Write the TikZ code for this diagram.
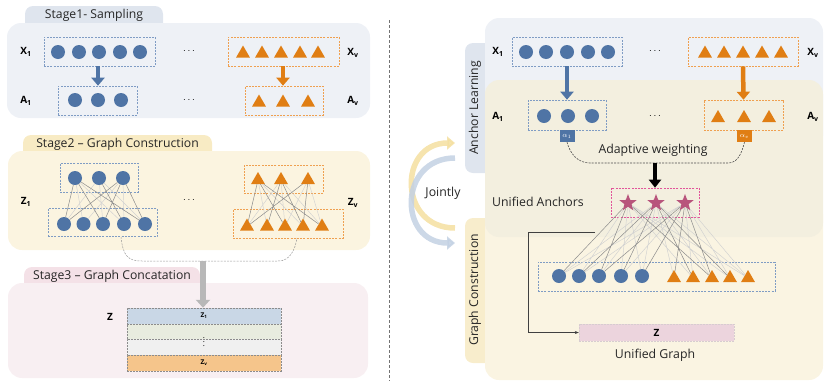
\documentclass[tikz,border=0pt]{standalone}
\usepackage{fontspec}
\setmainfont{Open Sans}
\usepackage{tikz}
\usetikzlibrary{shapes.geometric}
\usetikzlibrary{arrows.meta}

\definecolor{ptblue}{HTML}{4F74A5}
\definecolor{ptorange}{HTML}{E07E14}
\definecolor{ptstar}{HTML}{B8557C}
\definecolor{boxblue}{HTML}{7F9CC4}
\definecolor{boxorange}{HTML}{EFA050}
\definecolor{boxpink}{HTML}{E2549A}
\definecolor{panone}{HTML}{EEF1F6}
\definecolor{tabone}{HTML}{DFE5EE}
\definecolor{pantwo}{HTML}{FBF4E0}
\definecolor{tabtwo}{HTML}{F8EBC4}
\definecolor{panthree}{HTML}{F8EFF2}
\definecolor{tabthree}{HTML}{F4E1E7}
\definecolor{panmid}{HTML}{F3EFDF}
\definecolor{pangraph}{HTML}{FAF4E2}
\definecolor{tabgraph}{HTML}{F8EDCC}
\definecolor{rowone}{HTML}{C9D7E6}
\definecolor{rowtwo}{HTML}{E8ECDF}
\definecolor{rowthree}{HTML}{F0F0F0}
\definecolor{rowfour}{HTML}{F5C58B}
\definecolor{zpink}{HTML}{ECD4DD}
\definecolor{jointy}{HTML}{F4DFA0}
\definecolor{jointb}{HTML}{C3D1E3}

\tikzset{
  dot/.style={circle, fill=ptblue, inner sep=0pt, minimum size=14pt},
  tri/.style={regular polygon, regular polygon sides=3, fill=ptorange, inner sep=0pt, minimum size=16pt},
  star5/.style={star, star points=5, star point ratio=2.4, fill=ptstar, inner sep=0pt, minimum size=18pt},
  bbox/.style={draw=boxblue, dash pattern=on 2pt off 1.2pt, line width=0.6pt, inner sep=0pt},
  obox/.style={draw=boxorange, dash pattern=on 2pt off 1.2pt, line width=0.6pt, inner sep=0pt},
  lab/.style={font=\fontsize{10}{10}\selectfont},
  txt/.style={font=\fontsize{12.3}{13}\selectfont, text=black!85},
  tabtxt/.style={font=\fontsize{12.2}{13}\selectfont, text=black!85},
  dots/.style={font=\fontsize{10}{10}\selectfont},
  edgeD/.style={draw=black!45, line width=0.5pt},
  edgeL/.style={draw=black!18, line width=0.45pt},
  barrow/.style={draw=ptblue, line width=4.5pt, -{Triangle[width=13pt,length=8pt]}},
  oarrow/.style={draw=ptorange, line width=4.5pt, -{Triangle[width=13pt,length=8pt]}},
  row/.style={draw=black!45, dash pattern=on 2pt off 1pt, line width=0.5pt, minimum width=154pt, inner sep=0pt, font=\fontsize{6.5}{6.5}\selectfont},
  alb/.style={inner sep=0pt, minimum width=15pt, minimum height=12pt, text=white, font=\fontsize{7}{7}\selectfont}
}

\begin{document}
\begin{tikzpicture}[x=1pt,y=-1pt]
\useasboundingbox (0,0) rectangle (826,381);

% ---------------- stage 1
\fill[tabone, rounded corners=8pt] (25,6) rectangle (163,35);
\fill[panone, rounded corners=14pt] (7,23) rectangle (370,118);
\node[tabtxt] (st1) at (94,15) {Stage1- Sampling};

\node[lab] (lX1) at (26,52) {$\mathbf{X}_{\mathbf{1}}$};
\node[lab] (lA1) at (26,101) {$\mathbf{A}_{\mathbf{1}}$};
\node[lab] (lXv) at (353,53) {$\mathbf{X}_{\mathbf{v}}$};
\node[lab] (lAv) at (353,101) {$\mathbf{A}_{\mathbf{v}}$};

\node[bbox, minimum width=111pt, minimum height=29pt] (lxb) at (99.5,51.5) {};
\node[dot] (lx1) at (58,52) {};
\node[dot] (lx2) at (79,52) {};
\node[dot] (lx3) at (99,52) {};
\node[dot] (lx4) at (120,52) {};
\node[dot] (lx5) at (140,52) {};
\node[dots] (ld1) at (189,51) {$\cdots$};
\node[obox, minimum width=111pt, minimum height=29pt] (lvb) at (283.5,51.5) {};
\node[tri] (lv1) at (243,53.5) {};
\node[tri] (lv2) at (262,53.5) {};
\node[tri] (lv3) at (281,53.5) {};
\node[tri] (lv4) at (300,53.5) {};
\node[tri] (lv5) at (318,53.5) {};

\node[bbox, minimum width=79pt, minimum height=29pt] (lab1) at (97.5,100.5) {};
\node[dot] (la1) at (75,100) {};
\node[dot] (la2) at (98,100) {};
\node[dot] (la3) at (121,100) {};
\node[dots] (ld2) at (189,100) {$\cdots$};
\node[obox, minimum width=78pt, minimum height=29pt] (labv) at (284,100.5) {};
\node[tri] (lb1) at (259,102.5) {};
\node[tri] (lb2) at (283,102.5) {};
\node[tri] (lb3) at (308,102.5) {};

\draw[barrow] (lxb.south -| la2) -- (lab1.north -| la2);
\draw[oarrow] (lvb.south -| lb2) -- (labv.north -| lb2);

% ---------------- stage 2
\fill[tabtwo, rounded corners=8pt] (23,135) rectangle (212,165);
\fill[pantwo, rounded corners=14pt] (8,151) rectangle (370,250);
\node[tabtxt] (st2) at (117.5,144) {Stage2 -- Graph Construction};

\node[lab] (lZ1) at (26,202) {$\mathbf{Z}_{\mathbf{1}}$};
\node[lab] (lZv) at (353,203) {$\mathbf{Z}_{\mathbf{v}}$};

\node[bbox, minimum width=78pt, minimum height=29pt] (gtb) at (99,177.5) {};
\node[dot] (gt1) at (75,178) {};
\node[dot] (gt2) at (99,178) {};
\node[dot] (gt3) at (123,178) {};
\node[bbox, minimum width=109pt, minimum height=28pt] (gbb) at (102.5,222.5) {};
\node[dot] (gb1) at (64,224) {};
\node[dot] (gb2) at (83.5,224) {};
\node[dot] (gb3) at (103,224) {};
\node[dot] (gb4) at (124,224) {};
\node[dot] (gb5) at (145,224) {};
\node[dots] (ld3) at (189,200) {$\cdots$};
\node[obox, minimum width=79pt, minimum height=28pt] (htb) at (283.5,179) {};
\node[tri] (ht1) at (258,180) {};
\node[tri] (ht2) at (281,180) {};
\node[tri] (ht3) at (308,180) {};
\node[obox, minimum width=110pt, minimum height=29pt] (hbb) at (288,223.5) {};
\node[tri] (hb1) at (247,226.5) {};
\node[tri] (hb2) at (267,226.5) {};
\node[tri] (hb3) at (285,226.5) {};
\node[tri] (hb4) at (303,226.5) {};
\node[tri] (hb5) at (322,226.5) {};

\draw[edgeL] (gt1) -- (gb2) (gt1) -- (gb4) (gt2) -- (gb1) (gt2) -- (gb3) (gt2) -- (gb5) (gt3) -- (gb2) (gt3) -- (gb4);
\draw[edgeD] (gt1) -- (gb1) (gt1) -- (gb3) (gt1) -- (gb5) (gt2) -- (gb4) (gt3) -- (gb1) (gt3) -- (gb3) (gt3) -- (gb5);
\draw[edgeL] (ht1) -- (hb2) (ht1) -- (hb4) (ht2) -- (hb1) (ht2) -- (hb3) (ht2) -- (hb5) (ht3) -- (hb3) (ht3) -- (hb5);
\draw[edgeD] (ht1) -- (hb1) (ht1) -- (hb3) (ht1) -- (hb5) (ht2) -- (hb2) (ht2) -- (hb4) (ht3) -- (hb1) (ht3) -- (hb4);

% bracket to stage 3
\coordinate (brl) at (121,237);
\coordinate (brm) at (203,261);
\coordinate (brr) at (297,238);
\draw[black!40, dash pattern=on 2pt off 1.2pt, line width=0.5pt] (brl) .. controls (123,256) and (128,261) .. (142,261) -- (brm) -- (278,261) .. controls (290,261) and (295,250) .. (brr);

% ---------------- stage 3
\fill[tabthree, rounded corners=8pt] (24,267) rectangle (200,297);
\fill[panthree, rounded corners=14pt] (8,283) rectangle (368,378);
\node[tabtxt] (st3) at (112,276) {Stage3 -- Graph Concatation};

\node[lab] (lZ) at (110,317) {$\mathbf{Z}$};
\node[row, fill=rowone, minimum height=16pt] (zr1) at (204,316) {$\mathbf{Z}_{\mathbf{1}}$};
\node[row, fill=rowtwo, minimum height=15pt] (zr2) at (204,331.5) {};
\node[row, fill=rowthree, minimum height=16pt] (zr3) at (204,347) {};
\node[row, fill=rowfour, minimum height=16pt] (zr4) at (204,363) {$\mathbf{Z}_{\mathbf{v}}$};
\node[font=\fontsize{8}{8}\selectfont, inner sep=0pt] (zvd) at (204,339) {$\vdots$};

\draw[draw=black!28, line width=6pt, -{Triangle[width=14pt,length=8pt]}] (brm) -- (zr1.north -| brm);

% divider
\draw[black!55, dash pattern=on 3pt off 2pt, line width=0.6pt] (389,20) -- (389,381);

% ---------------- right side
\fill[tabone, rounded corners=8pt] (465,43) rectangle (500,173);
\fill[tabgraph, rounded corners=8pt] (465,218) rectangle (500,363);
\fill[panone, rounded corners=14pt] (485,18) rectangle (823,150);
\fill[pangraph, rounded corners=14pt] (485,200) rectangle (823,380);
\fill[panmid, rounded corners=14pt] (485,80) rectangle (823,237);
\node[tabtxt, rotate=90] (tal) at (475,108) {Anchor Learning};
\node[tabtxt, rotate=90] (tgc) at (475,290) {Graph Construction};

% jointly
\coordinate (jy1) at (455,228);
\coordinate (jy2) at (455,143);
\coordinate (jb1) at (455,158);
\coordinate (jb2) at (455,243);
\draw[jointy, opacity=0.85, line width=5.5pt, -{Triangle[width=13pt,length=8pt]}] (jy1) .. controls (398,228) and (398,143) .. (jy2);
\draw[jointb, opacity=0.85, line width=5.5pt, -{Triangle[width=13pt,length=8pt]}] (jb1) .. controls (398,158) and (398,243) .. (jb2);
\node[txt] (jt) at (443,193) {Jointly};

\node[lab] (rX1) at (498,52) {$\mathbf{X}_{\mathbf{1}}$};
\node[lab] (rA1) at (498,117) {$\mathbf{A}_{\mathbf{1}}$};
\node[lab] (rXv) at (813,53) {$\mathbf{X}_{\mathbf{v}}$};
\node[lab] (rAv) at (813,117) {$\mathbf{A}_{\mathbf{v}}$};

\node[bbox, minimum width=110pt, minimum height=29pt] (rxb) at (567,51.5) {};
\node[dot] (rx1) at (526,52) {};
\node[dot] (rx2) at (546,52) {};
\node[dot] (rx3) at (567,52) {};
\node[dot] (rx4) at (588,52) {};
\node[dot] (rx5) at (608,52) {};
\node[dots] (rd1) at (655,51) {$\cdots$};
\node[obox, minimum width=110pt, minimum height=29pt] (rvb) at (743,51.5) {};
\node[tri] (rv1) at (705,53.5) {};
\node[tri] (rv2) at (724,53.5) {};
\node[tri] (rv3) at (743,53.5) {};
\node[tri] (rv4) at (762,53.5) {};
\node[tri] (rv5) at (781,53.5) {};

\node[bbox, minimum width=78pt, minimum height=30pt] (rab) at (567,115) {};
\node[dot] (ra1) at (544,116) {};
\node[dot] (ra2) at (568,116) {};
\node[dot] (ra3) at (592,116) {};
\node[dots] (rd2) at (655,116) {$\cdots$};
\node[obox, minimum width=79pt, minimum height=30pt] (rbb) at (743.5,115) {};
\node[tri] (rb1) at (718,118) {};
\node[tri] (rb2) at (744,118) {};
\node[tri] (rb3) at (769,118) {};

\draw[barrow] (rxb.south) -- (rab.north);
\draw[oarrow] (rvb.south) -- (rbb.north);

\node[alb, fill=ptblue] (al1) at (567,136) {$\alpha_1$};
\node[alb, fill=ptorange] (alv) at (744.5,136) {$\alpha_v$};
\coordinate (wl) at (590,163);
\coordinate (wm) at (655,163);
\coordinate (wr) at (728,163);
\draw[black!70, dash pattern=on 2pt off 1.2pt, line width=0.6pt] (al1.south) to[out=-75,in=180] (wl) -- (wm) -- (wr) to[out=0,in=-105] (alv.south);
\node[txt] (aw) at (653,150) {Adaptive weighting};

\node[txt] (ua) at (538,202) {Unified Anchors};
\node[draw=boxpink, dash pattern=on 2pt off 1.2pt, line width=0.6pt, minimum width=88pt, minimum height=29pt, inner sep=0pt] (usb) at (655,202.5) {};
\draw[black, line width=4.5pt, -{Triangle[width=12pt,length=8pt]}] (wm) -- (usb.north);
\node[star5] (us1) at (628,203) {};
\node[star5] (us2) at (656,203) {};
\node[star5] (us3) at (685,203) {};

\node[bbox, minimum width=237pt, minimum height=29pt] (ubb) at (656.5,276.5) {};
\node[dot] (uc1) at (559,276) {};
\node[dot] (uc2) at (579,276) {};
\node[dot] (uc3) at (599,276) {};
\node[dot] (uc4) at (621,276) {};
\node[dot] (uc5) at (642,276) {};
\node[tri] (ut1) at (674,278) {};
\node[tri] (ut2) at (693,278) {};
\node[tri] (ut3) at (712,278) {};
\node[tri] (ut4) at (730,278) {};
\node[tri] (ut5) at (748,278) {};

\draw[edgeL] (us1) -- (uc2) (us1) -- (uc4) (us1) -- (uc5) (us1) -- (ut2) (us1) -- (ut4) (us1) -- (ut5)
  (us2) -- (uc1) (us2) -- (uc3) (us2) -- (uc5) (us2) -- (ut1) (us2) -- (ut3) (us2) -- (ut5)
  (us3) -- (uc1) (us3) -- (uc2) (us3) -- (uc4) (us3) -- (ut2) (us3) -- (ut4) (us3) -- (ut5);
\draw[edgeD] (us1) -- (uc1) (us1) -- (uc3) (us1) -- (ut3)
  (us2) -- (uc2) (us2) -- (uc4) (us2) -- (ut2) (us2) -- (ut4)
  (us3) -- (uc3) (us3) -- (uc5) (us3) -- (ut1) (us3) -- (ut3);

\node[fill=zpink, draw=zpink!80!black!60, dash pattern=on 2pt off 1pt, line width=0.4pt, minimum width=155pt, minimum height=17pt, inner sep=0pt, font=\fontsize{10}{10}\selectfont] (zb) at (656.5,332.5) {$\mathbf{Z}$};
\node[txt] (ug) at (655,355) {Unified Graph};

\coordinate (ls) at (595,232);
\coordinate (lc) at (528,232);
\draw[black!75, line width=0.6pt, -{Stealth[length=4pt,width=3pt]}] (ls) -- (lc) |- (zb.west);

\end{tikzpicture}
\end{document}
